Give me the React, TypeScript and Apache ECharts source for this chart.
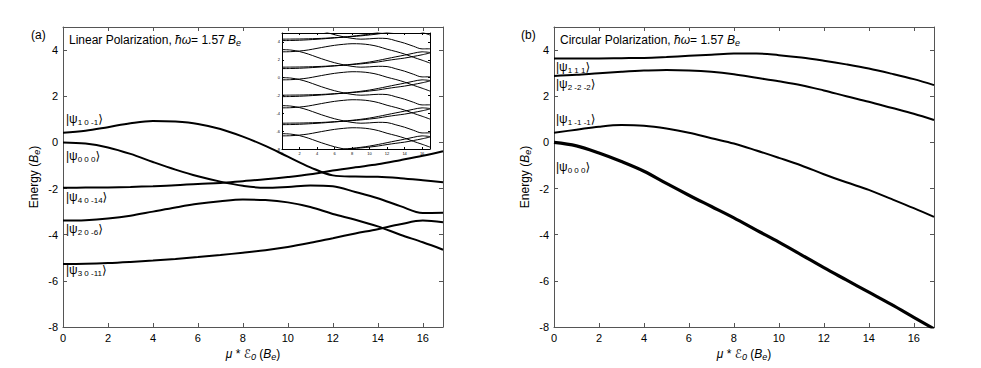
import React, { useEffect, useRef } from "react";
import * as echarts from "echarts";

// ---------- data ----------
const xs = [0, 1, 2, 3, 4, 5, 6, 7, 8, 9, 10, 11, 12, 13, 14, 15, 16, 16.9];

// (a) linear polarization
const linPsi10m1 = [0.42, 0.5, 0.66, 0.83, 0.93, 0.9, 0.8, 0.58, 0.25, -0.15, -0.62, -1.08, -1.43, -1.48, -1.49, -1.55, -1.64, -1.73];
const linPsi000 = [0, -0.05, -0.22, -0.5, -0.85, -1.18, -1.47, -1.7, -1.88, -1.97, -1.93, -1.87, -1.9, -2.15, -2.42, -2.76, -3.06, -3.05];
const linPsi20m6 = [-3.39, -3.37, -3.3, -3.18, -3.0, -2.82, -2.66, -2.55, -2.48, -2.5, -2.6, -2.8, -3.1, -3.35, -3.64, -4.0, -4.33, -4.65];
const linPsi40m14 = [-1.97, -1.96, -1.95, -1.93, -1.9, -1.86, -1.8, -1.76, -1.68, -1.6, -1.5, -1.38, -1.22, -1.08, -0.95, -0.77, -0.58, -0.38];
const linPsi30m11 = [-5.27, -5.26, -5.23, -5.18, -5.12, -5.05, -4.97, -4.88, -4.78, -4.67, -4.53, -4.35, -4.15, -3.95, -3.76, -3.55, -3.39, -3.46];

// inset: the same levels repeat with a period of 2ħω
const insetPeriod = 3.14;
const insetShifts = [-3, -2, -1, 0, 1, 2, 3];

// (b) circular polarization
const circPsi111 = [3.64, 3.64, 3.64, 3.65, 3.66, 3.7, 3.75, 3.8, 3.85, 3.85, 3.78, 3.68, 3.54, 3.38, 3.2, 2.98, 2.74, 2.48];
const circPsi2m2m2 = [2.88, 2.93, 3.0, 3.06, 3.11, 3.14, 3.12, 3.06, 2.95, 2.8, 2.65, 2.48, 2.25, 2.0, 1.76, 1.5, 1.24, 0.97];
const circPsi1m1m1 = [0.42, 0.55, 0.68, 0.75, 0.72, 0.6, 0.42, 0.18, -0.05, -0.35, -0.67, -1.0, -1.38, -1.73, -2.06, -2.45, -2.85, -3.23];
const circPsi000 = [0, -0.15, -0.46, -0.83, -1.25, -1.78, -2.29, -2.78, -3.27, -3.8, -4.32, -4.87, -5.43, -5.96, -6.49, -7.02, -7.58, -8.08];

const xTickInterval = 2;
const yTickInterval = 2;
const X_MIN = 0;
const X_MAX = 16.9;
const Y_MIN = -8;
const Y_MAX = 5;

const linKets = ["1 0 -1", "0 0 0", "4 0 -14", "2 0 -6", "3 0 -11"];
const circKets = ["1 1 1", "2 -2 -2", "1 -1 -1", "0 0 0"];

// ---------- styling ----------
const FONT = '"Liberation Sans", Arial, Helvetica, "DejaVu Sans", sans-serif';
const AXIS_COLOR = "#555";

const richBase = {
  n: { fontSize: 12, fontFamily: FONT, color: "#000", fill: "#000", lineHeight: 14, verticalAlign: "middle" },
  s: { fontSize: 8, fontFamily: FONT, color: "#000", fill: "#000", lineHeight: 8, verticalAlign: "bottom" },
  i: { fontSize: 12, fontFamily: FONT, fontStyle: "italic", color: "#000", fill: "#000", lineHeight: 14, verticalAlign: "middle" },
  t: { fontSize: 12, fontFamily: FONT, color: "#000", fill: "#000", lineHeight: 14, verticalAlign: "middle" },
  si: { fontSize: 9, fontFamily: FONT, fontStyle: "italic", color: "#000", fill: "#000", lineHeight: 8, verticalAlign: "bottom" },
};

function toPairs(ys: number[], shift = 0) {
  return xs.map((x, i) => [x, ys[i] + shift]);
}

function xAxes(gridIndex: number, small: boolean) {
  const common = {
    type: "value" as const,
    gridIndex,
    min: X_MIN,
    max: X_MAX,
    interval: xTickInterval,
    splitLine: { show: false },
    axisLine: { show: true, onZero: false, lineStyle: { color: small ? "#000" : AXIS_COLOR, width: 1 } },
    axisTick: { show: true, inside: true, length: small ? 2 : 4, lineStyle: { color: small ? "#000" : AXIS_COLOR } },
  };
  const bottom: any = {
    ...common,
    position: "bottom",
    axisLabel: {
      show: true,
      showMaxLabel: false,
      fontSize: small ? 4 : 11,
      margin: small ? 2 : 5,
      color: "#000",
      fontFamily: FONT,
    },
  };
  if (!small) {
    bottom.name = "{i|μ} {t|*} {i|ℰ}{si|0}{t| (}{i|B}{si|e}{t|)}";
    bottom.nameLocation = "middle";
    bottom.nameGap = 20;
    bottom.nameTextStyle = { rich: richBase };
  }
  const top = { ...common, position: "top", axisLabel: { show: false } };
  return [bottom, top];
}

function yAxes(gridIndex: number, small: boolean) {
  const common = {
    type: "value" as const,
    gridIndex,
    min: Y_MIN,
    max: Y_MAX,
    interval: yTickInterval,
    splitLine: { show: false },
    axisLine: { show: true, onZero: false, lineStyle: { color: small ? "#000" : AXIS_COLOR, width: 1 } },
    axisTick: { show: true, inside: true, length: small ? 2 : 4, lineStyle: { color: small ? "#000" : AXIS_COLOR } },
  };
  const left: any = {
    ...common,
    position: "left",
    axisLabel: {
      show: true,
      showMaxLabel: false,
      fontSize: small ? 4 : 11,
      margin: small ? 2 : 5,
      color: "#000",
      fontFamily: FONT,
    },
  };
  if (!small) {
    left.name = "{t|Energy (}{i|B}{si|e}{t|)}";
    left.nameLocation = "middle";
    left.nameGap = 22;
    left.nameTextStyle = { rich: richBase };
  }
  const right = { ...common, position: "right", axisLabel: { show: false } };
  return [left, right];
}

function lineSeries(ys: number[], xi: number, yi: number, width: number, shift = 0) {
  return {
    type: "line",
    xAxisIndex: xi,
    yAxisIndex: yi,
    data: toPairs(ys, shift),
    showSymbol: false,
    smooth: 0.35,
    clip: true,
    silent: true,
    z: 3,
    lineStyle: { color: "#000", width },
  };
}

function ket(sub: string, x: number, y: number) {
  return {
    type: "text",
    x,
    y,
    z: 100,
    style: {
      text: `{n||ψ}{s|${sub}}{n|⟩}`,
      rich: richBase,
      verticalAlign: "middle",
      align: "left",
    },
  };
}

function plainText(text: string, x: number, y: number) {
  return {
    type: "text",
    x,
    y,
    z: 100,
    style: { text, rich: richBase, verticalAlign: "middle", align: "left" },
  };
}

function buildOption() {
  const series: any[] = [];
  [linPsi10m1, linPsi000, linPsi20m6, linPsi40m14, linPsi30m11].forEach((c) => series.push(lineSeries(c, 0, 0, 2)));
  [circPsi111, circPsi2m2m2, circPsi1m1m1].forEach((c) => series.push(lineSeries(c, 2, 2, 2)));
  series.push(lineSeries(circPsi000, 2, 2, 3.2));
  [linPsi000, linPsi20m6, linPsi40m14, linPsi30m11].forEach((c) =>
    insetShifts.forEach((k) => series.push(lineSeries(c, 4, 4, 1, k * insetPeriod)))
  );

  const linYs = [119, 156, 197, 229, 270];
  const circYs = [67, 84, 119, 167];

  return {
    animation: false,
    backgroundColor: "#fff",
    grid: [
      { left: 63, top: 27, width: 380, height: 300, containLabel: false },
      { left: 554, top: 27, width: 380, height: 300, containLabel: false },
      { left: 282, top: 33, width: 148, height: 116, show: true, backgroundColor: "#fff", borderWidth: 0 },
    ],
    xAxis: [...xAxes(0, false), ...xAxes(1, false), ...xAxes(2, true)],
    yAxis: [...yAxes(0, false), ...yAxes(1, false), ...yAxes(2, true)],
    series,
    graphic: [
      plainText("{t|(a)}", 31, 35),
      plainText("{t|(b)}", 521, 35),
      plainText("{t|Linear Polarization, }{i|ħω}{t|= 1.57 }{i|B}{si|e}", 69, 40),
      plainText("{t|Circular Polarization, }{i|ħω}{t|= 1.57 }{i|B}{si|e}", 560, 40),
      ...linKets.map((k, i) => ket(k, 66, linYs[i])),
      ...circKets.map((k, i) => ket(k, 556, circYs[i])),
    ],
  };
}

export default function App() {
  const ref = useRef<HTMLDivElement>(null);
  useEffect(() => {
    if (!ref.current) return;
    const chart = echarts.init(ref.current, null, { renderer: "svg" });
    chart.setOption(buildOption() as any);
    return () => chart.dispose();
  }, []);
  return (
    <div
      ref={ref}
      style={{ position: "fixed", left: 0, top: 0, width: 981, height: 368, background: "#fff" }}
    />
  );
}
